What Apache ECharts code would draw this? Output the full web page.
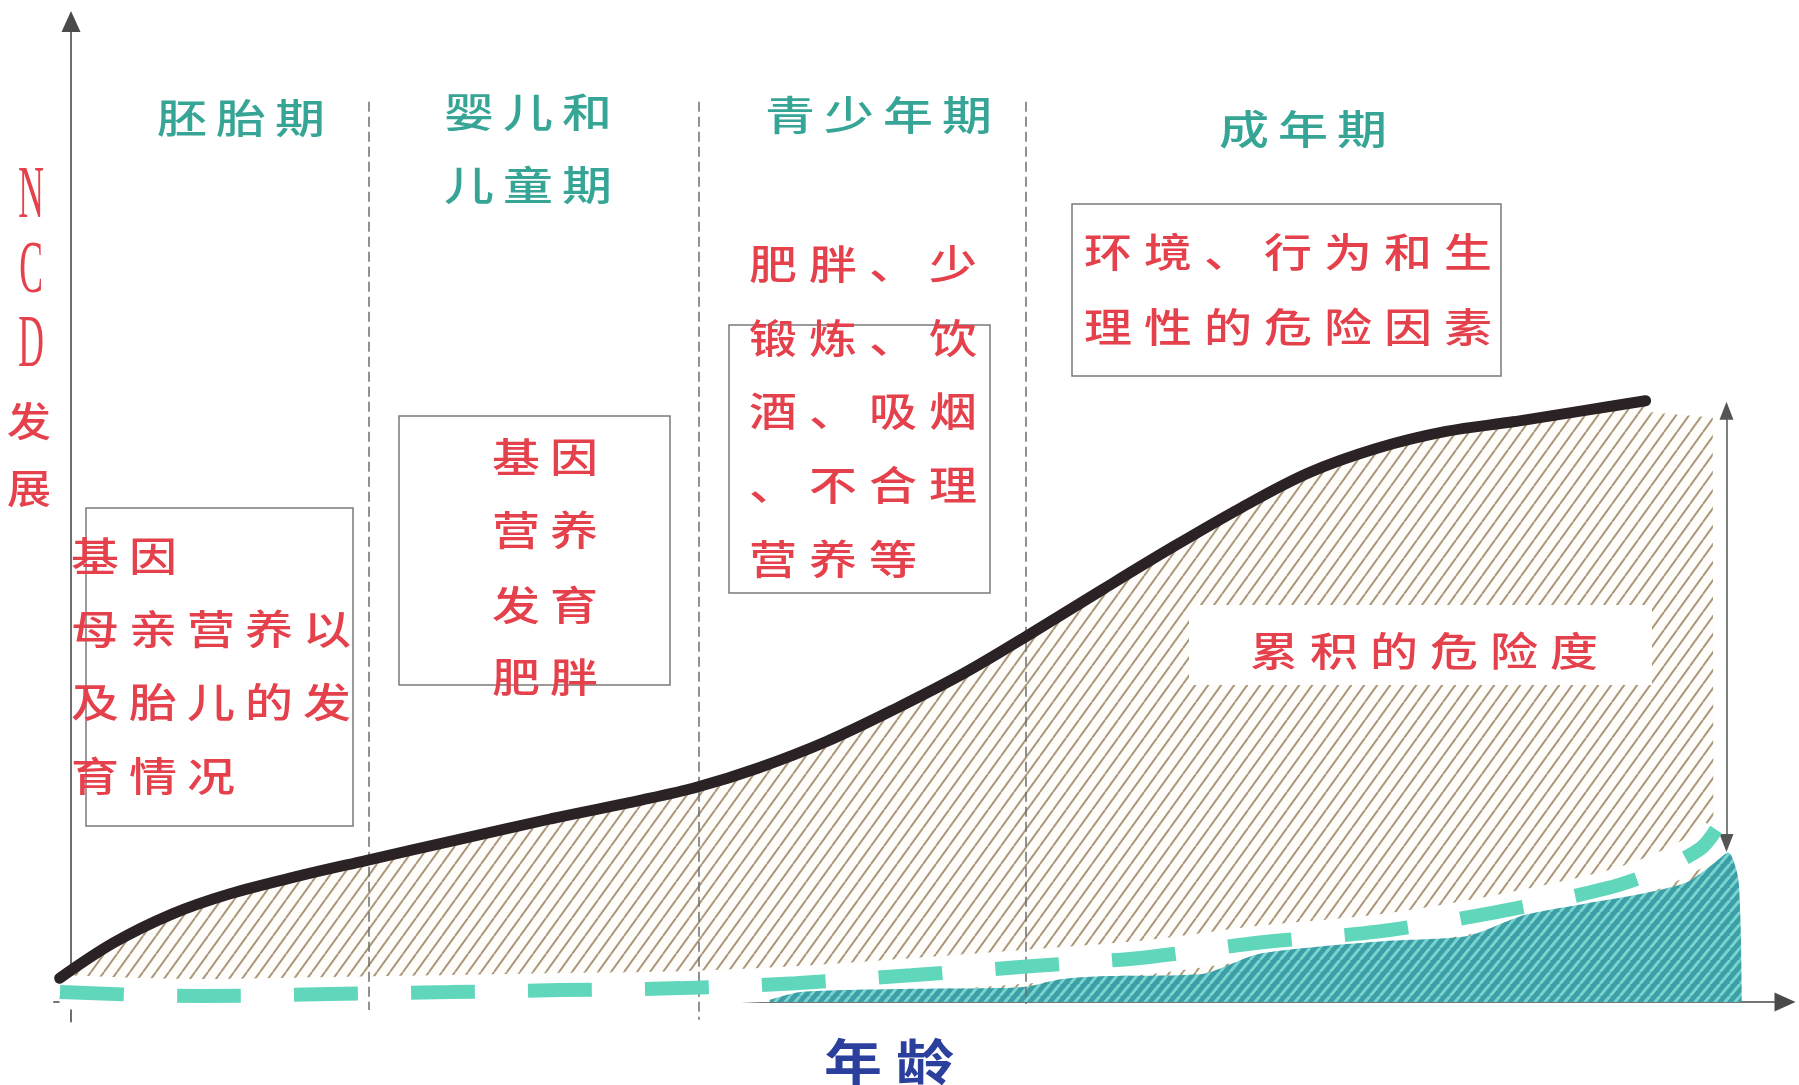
<!DOCTYPE html>
<html>
<head>
<meta charset="utf-8">
<script src="https://cdn.jsdelivr.net/npm/echarts/dist/echarts.min.js"></script>
<style>
html,body{margin:0;padding:0;background:#ffffff;}
#chart{width:1799px;height:1085px;}
</style>
</head>
<body>
<div id="chart"></div>
<script>
// ---------------- DATA (x: age scale 0–100, y: NCD development 0–100) ----------------
const ncdCurve = [[-0.66,2.4],[2.5,6.0],[5.9,8.9],[9.2,10.9],[13.2,12.7],[17.2,14.3],[22.5,16.4],[27.9,18.5],[33.2,20.4],[36.4,21.7],[39.9,23.6],[43.9,26.3],[47.9,29.6],[51.9,33.2],[55.5,36.9],[59.9,41.6],[63.9,45.8],[67.9,49.8],[71.9,53.4],[75.9,55.9],[79.9,57.6],[83.9,58.6],[87.9,59.7],[91.5,60.7]];
const hatchTail = [[91.4,59.6],[95.4,59.0],[95.45,0]];
const baselinePath = [[-0.64,1.0],[7.5,0.6],[15.05,0.8],[22.0,1.0],[28.4,1.2],[35.4,1.4],[42.1,1.9],[48.8,2.7],[55.7,3.6],[62.4,4.5],[69.1,6.0],[75.9,7.1],[82.6,9.0],[89.3,11.5],[92.3,13.3],[94.7,15.5],[95.6,17.4]];
const tealRisk = [[40.6,0.2],[42.4,1.0],[48.2,1.3],[54.0,1.4],[55.7,1.6],[57.5,2.3],[59.8,2.6],[65.6,2.8],[68.9,4.8],[72.6,5.6],[76.8,6.2],[81.2,6.7],[84.5,8.8],[87.9,9.9],[91.2,10.9],[93.9,12.1],[95.4,13.9],[96.3,15.1],[96.9,12.3],[97.1,0]];
const stageBounds = [17.3, 36.5, 55.5];
const stageBottoms = [-0.8, -1.8, -0.2];
const stageTop = 90.9;
const riskArrow = {x: 96.2, top: 59.7, bottom: 16.05};

const stageTitles = [
  ['胚胎期'], ['婴儿和','儿童期'], ['青少年期'], ['成年期']
];
const box1Lines = ['基因','母亲营养以','及胎儿的发','育情况'];
const box2Lines = ['基因','营养','发育','肥胖'];
const box3Lines = ['肥胖、少','锻炼、饮','酒、吸烟','、不合理','营养等'];
const box4Lines = ['环境、行为和生','理性的危险因素'];
const riskLabel = '累积的危险度';
const xName = '年龄';
const yNameLatin = ['N','C','D'];
const yNameCJK = ['发','展'];

// ---------------- patterns ----------------
function stripes(w, h, bg, fg, lw) {
  const c = document.createElement('canvas');
  c.width = w; c.height = h;
  const g = c.getContext('2d');
  if (bg) { g.fillStyle = bg; g.fillRect(0, 0, w, h); }
  g.strokeStyle = fg; g.lineWidth = lw;
  g.beginPath();
  [-w, 0, w].forEach(o => { g.moveTo(o, h); g.lineTo(o + w, 0); });
  g.stroke();
  return c;
}
const beigePat = stripes(13, 18, '#fffdf9', '#ab987c', 2.0);
const tealPat = stripes(10, 12, '#3c9fa7', '#7ad4ce', 3.0);

// ---------------- text helpers (layout) ----------------
const CJK = '"Noto Sans CJK SC", "Noto Sans", sans-serif';
function chars(str, x0, cy, o) {
  return Array.from(str).map((ch, i) => ({
    type: 'text', silent: true, z: 100,
    x: x0 + i * o.pitch + o.size / 2, y: cy,
    scaleX: o.sx || 1, scaleY: o.sy || 1,
    style: {
      text: ch, fill: o.color, fontSize: o.size, fontFamily: o.family || CJK,
      fontWeight: o.weight || 500,
      align: 'center', verticalAlign: 'middle', textAlign: 'center', textVerticalAlign: 'middle'
    }
  }));
}
function rows(lines, x0, cys, o) {
  let out = [];
  lines.forEach((l, i) => { out = out.concat(chars(l, x0, cys[i], o)); });
  return out;
}
function box(x, y, w, h) {
  return {type: 'rect', silent: true, z: 99, shape: {x, y, width: w, height: h},
    style: {fill: 'none', stroke: '#7a7a7a', lineWidth: 1.5}};
}

const TEAL = '#37a596', RED = '#e5414c', BLUE = '#2b3f9d';
const titleStyle = {size: 50, pitch: 59, sy: 0.8, color: TEAL};
const redStyle = {size: 48, pitch: 58, sy: 0.84, color: RED};
const redWide = {size: 48, pitch: 60, sy: 0.84, color: RED};

let graphics = [];
graphics = graphics.concat(
  chars(stageTitles[0][0], 157, 118, titleStyle),
  chars(stageTitles[1][0], 444, 112, titleStyle),
  chars(stageTitles[1][1], 444, 185, titleStyle),
  chars(stageTitles[2][0], 765, 115, titleStyle),
  chars(stageTitles[3][0], 1219, 129, titleStyle)
);
graphics.push(box(86, 508, 267, 318), box(399, 416, 271, 269), box(729, 325, 261, 268), box(1072, 204, 429, 172));
graphics = graphics.concat(
  rows(box1Lines, 71, [556, 629, 702, 776], redStyle),
  rows(box2Lines, 492, [457, 530, 605, 677], redStyle),
  rows(box3Lines, 749, [264, 338, 411, 485, 559], redWide),
  rows(box4Lines, 1084, [252, 327], redWide)
);
graphics.push({type: 'rect', silent: true, z: 98, shape: {x: 1189, y: 605, width: 463, height: 80}, style: {fill: '#ffffff'}});
graphics = graphics.concat(chars(riskLabel, 1250, 651, redWide));
graphics = graphics.concat(chars(xName, 824, 1061, {size: 58, pitch: 72, sy: 0.85, color: BLUE, weight: 'bold'}));
yNameLatin.forEach((ch, i) => {
  graphics.push({type: 'text', silent: true, z: 100, x: 31, y: [198, 273, 347][i], scaleX: 0.48,
    style: {text: ch, fill: RED, fontSize: 74, fontFamily: '"Liberation Serif", "DejaVu Serif", serif',
      align: 'center', verticalAlign: 'middle', textAlign: 'center', textVerticalAlign: 'middle'}});
});
yNameCJK.forEach((ch, i) => {
  graphics.push({type: 'text', silent: true, z: 100, x: 29, y: [421, 488][i], scaleY: 0.9,
    style: {text: ch, fill: RED, fontSize: 44, fontFamily: CJK, fontWeight: 500,
      align: 'center', verticalAlign: 'middle', textAlign: 'center', textVerticalAlign: 'middle'}});
});

// ---------------- chart ----------------
const chart = echarts.init(document.getElementById('chart'), null, {renderer: 'canvas'});
const axisLineStyle = {color: '#4a4a4a', width: 1.6};
chart.setOption({
  animation: false,
  backgroundColor: '#ffffff',
  grid: {left: 53.8, right: 14, top: 21.4, bottom: 63.2, containLabel: false},
  xAxis: {
    type: 'value', min: -1, max: 99.6,
    axisLine: {show: true, onZero: true, symbol: ['none', 'triangle'], symbolSize: [19, 21], lineStyle: axisLineStyle},
    axisTick: {show: false}, axisLabel: {show: false}, splitLine: {show: false}
  },
  yAxis: {
    type: 'value', min: -2, max: 99,
    axisLine: {show: true, onZero: true, symbol: ['none', 'triangle'], symbolSize: [19, 21], lineStyle: axisLineStyle},
    axisTick: {show: false}, axisLabel: {show: false}, splitLine: {show: false}
  },
  series: [
    {name: 'hatch', type: 'line', data: ncdCurve, smooth: 0.35, symbol: 'none', silent: true, z: 1,
      lineStyle: {width: 0, opacity: 0}, areaStyle: {color: {image: beigePat, repeat: 'repeat'}, opacity: 1, origin: 0}},
    {name: 'hatchTail', type: 'line', data: hatchTail, smooth: false, symbol: 'none', silent: true, z: 1,
      lineStyle: {width: 0, opacity: 0}, areaStyle: {color: {image: beigePat, repeat: 'repeat'}, opacity: 1, origin: 0}},
    {name: 'guides', type: 'line', data: [], symbol: 'none', silent: true, z: 2,
      markLine: {silent: true, symbol: ['none', 'none'], label: {show: false},
        lineStyle: {type: [10, 5], color: '#6e6e6e', width: 1.5},
        data: stageBounds.map((x, i) => [{coord: [x, stageTop]}, {coord: [x, stageBottoms[i]]}])}},
    {name: 'band', type: 'line', data: baselinePath, smooth: 0.3, symbol: 'none', silent: true, z: 3,
      lineStyle: {color: '#ffffff', width: 34, cap: 'butt'}},
    {name: 'teal', type: 'line', data: tealRisk, smooth: 0.25, symbol: 'none', silent: true, z: 4,
      lineStyle: {width: 0, opacity: 0}, areaStyle: {color: {image: tealPat, repeat: 'repeat'}, opacity: 1, origin: 0}},
    {name: 'baseline', type: 'line', data: baselinePath, smooth: 0.3, symbol: 'none', silent: true, z: 5,
      lineStyle: {color: '#60d7bb', width: 14, type: [64, 53], cap: 'butt'}},
    {name: 'curve', type: 'line', data: ncdCurve, smooth: 0.35, symbol: 'none', silent: true, z: 6,
      lineStyle: {color: '#2a2224', width: 11, cap: 'round'},
      markLine: {silent: true, symbol: ['triangle', 'triangle'], symbolSize: [14, 18], label: {show: false},
        lineStyle: {type: 'solid', color: '#555555', width: 1.5},
        data: [[{coord: [riskArrow.x, riskArrow.top]}, {coord: [riskArrow.x, riskArrow.bottom]}]]}}
  ],
  graphic: graphics
});
</script>
</body>
</html>
